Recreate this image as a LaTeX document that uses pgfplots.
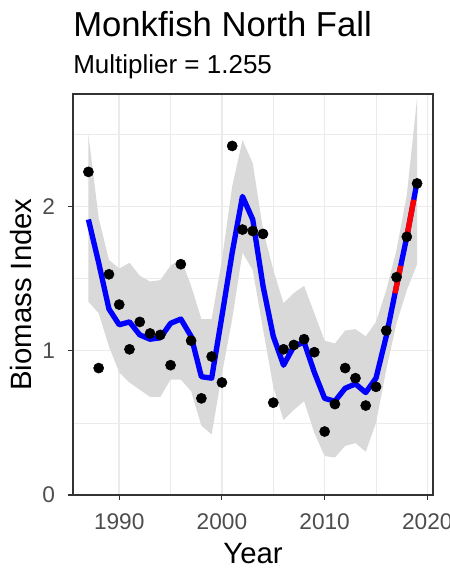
\documentclass[border=0pt]{standalone}
\usepackage{pgfplots}
\pgfplotsset{compat=1.18}
\usepgfplotslibrary{fillbetween}
\usepackage{fontspec}
\setmainfont{Liberation Sans}

\definecolor{ribbon}{HTML}{D9D9D9}
\definecolor{gridcol}{HTML}{EBEBEB}
\definecolor{ticktext}{HTML}{4D4D4D}
\definecolor{framecol}{HTML}{333333}

% year, survey index, smoothed fit, ribbon lower/upper
\pgfplotstableread{
year idx  fit  lo   hi
1987 2.24 1.91 1.34 2.50
1988 0.88 1.61 1.26 1.92
1989 1.53 1.29 1.03 1.63
1990 1.32 1.18 0.85 1.57
1991 1.01 1.20 0.78 1.61
1992 1.20 1.11 0.73 1.52
1993 1.12 1.08 0.68 1.48
1994 1.11 1.09 0.68 1.49
1995 0.90 1.19 0.80 1.59
1996 1.60 1.22 0.80 1.64
1997 1.07 1.10 0.72 1.45
1998 0.67 0.82 0.48 1.22
1999 0.96 0.81 0.42 1.22
2000 0.78 1.24 0.84 1.63
2001 2.42 1.68 1.22 2.14
2002 1.84 2.07 1.68 2.46
2003 1.83 1.91 1.56 2.30
2004 1.81 1.45 1.15 1.84
2005 0.64 1.10 0.75 1.56
2006 1.01 0.90 0.52 1.33
2007 1.04 1.03 0.59 1.40
2008 1.08 1.06 0.65 1.45
2009 0.99 0.85 0.43 1.26
2010 0.44 0.67 0.27 1.07
2011 0.63 0.65 0.26 1.05
2012 0.88 0.74 0.34 1.14
2013 0.81 0.77 0.36 1.15
2014 0.62 0.71 0.30 1.10
2015 0.75 0.81 0.50 1.20
2016 1.14 1.10 0.87 1.42
2017 1.51 1.45 1.19 1.70
2018 1.79 1.79 1.42 2.08
2019 2.16 2.17 1.60 2.75
}\fishdata

% last years, highlighted in red
\pgfplotstableread{
year fit
2016 1.10
2017 1.45
2018 1.79
2019 2.17
}\recent

\begin{document}
\begin{tikzpicture}
\begin{axis}[
  at={(0pt,0pt)}, anchor=south west,
  scale only axis, width=270pt, height=300.75pt,
  xmin=1985.5, xmax=2020.55, ymin=0, ymax=2.78,
  xtick={1990,2000,2010,2020}, xticklabels={1990,2000,2010,2020},
  minor xtick={1995,2005,2015},
  ytick={0,1,2}, yticklabels={0,1,2},
  minor ytick={0.5,1.5,2.5},
  /pgf/number format/assume math mode=true,
  grid=both,
  major grid style={gridcol, line width=1.1pt},
  minor grid style={gridcol, line width=0.55pt},
  axis line style={framecol, line width=0.8pt},
  every tick/.style={framecol, line width=0.8pt},
  tick align=outside, major tick length=4pt, minor tick length=0pt,
  xtick pos=bottom, ytick pos=left,
  ticklabel style={font=\fontsize{17}{19}\selectfont, text=ticktext},
  xticklabel style={yshift=-6.5pt},
  yticklabel style={xshift=-6pt},
  xlabel={Year}, ylabel={Biomass Index},
  label style={font=\fontsize{22}{26}\selectfont},
  xlabel style={at={(axis description cs:0.5,0)}, anchor=base, yshift=-51pt},
  ylabel style={at={(axis description cs:-0.114,0.5)}, rotate=0, anchor=base},
]
\addplot[name path=hi, draw=none, forget plot] table[x=year, y=hi] {\fishdata};
\addplot[name path=lo, draw=none, forget plot] table[x=year, y=lo] {\fishdata};
\addplot[ribbon, draw=none] fill between[of=hi and lo];
\addplot[only marks, mark=*, mark size=3.8pt, black] table[x=year, y=idx] {\fishdata};
\addplot[blue, line width=4pt, line join=round] table[x=year, y=fit] {\fishdata};
\addplot[red, line width=4pt, dash pattern=on 0pt off 33pt on 21pt off 22pt on 28.5pt off 13pt on 10pt] table[x=year, y=fit] {\recent};
\end{axis}
\node[anchor=base west, inner sep=0pt, font=\fontsize{26}{30}\selectfont] at (0pt,343.7pt) {Monkfish North Fall};
\node[anchor=base west, inner sep=0pt, font=\fontsize{19.5}{23}\selectfont] at (0pt,315.75pt) {Multiplier = 1.255};
\pgfresetboundingbox
\path[use as bounding box] (-54.75pt,-55.5pt) rectangle (282.75pt,371.25pt);
\end{tikzpicture}
\end{document}
